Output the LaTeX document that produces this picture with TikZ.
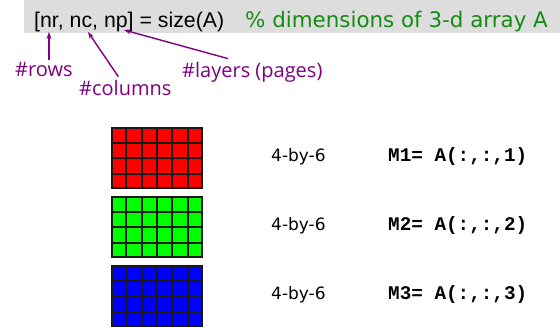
\documentclass[tikz,border=0pt]{standalone}
\usepackage{fontspec}
\setmainfont{DejaVu Sans}
\newfontfamily\callfont{Liberation Sans}
\newfontfamily\slicefont{Liberation Mono}
\newfontfamily\notefont{Open Sans}
\usetikzlibrary{positioning,calc,arrows.meta}

\definecolor{bandgray}{RGB}{221,221,221}
\definecolor{notepurple}{RGB}{128,0,128}
\definecolor{commentgreen}{RGB}{20,140,20}

\tikzset{
  note/.style={text=notepurple, inner sep=0pt, anchor=base west,
    font=\notefont\fontsize{20}{20}\selectfont},
  pointer/.style={draw=notepurple, line width=1.4pt,
    -{Stealth[length=7pt,width=5pt]}},
  layer/.style={draw=black!90, line width=2pt, minimum width=90pt,
    minimum height=60pt, inner sep=0pt},
  cellline/.style={draw=black!90, line width=2pt},
  dims/.style={inner sep=0pt, anchor=base west, font=\fontsize{17}{17}\selectfont},
  slice/.style={inner sep=0pt, anchor=base west,
    font=\slicefont\bfseries\fontsize{19.3}{19.3}\selectfont},
}

\begin{document}
\begin{tikzpicture}[x=1pt,y=-1pt]
\useasboundingbox (0,0) rectangle (560,327);

% command line
\fill[bandgray] (24,0) rectangle (560,33);
\node[inner sep=0pt, anchor=base west, font=\callfont\fontsize{21.3}{21.3}\selectfont]
  (call) at (34,27) {[nr, nc, np] = size(A)};
\node[inner sep=0pt, anchor=base west, text=commentgreen,
  font=\fontsize{21.4}{21.4}\selectfont]
  (comment) at (245,27) {\% dimensions of 3-d array A};

% notes
\node[note] (rows) at (15,76) {\#rows};
\node[note] (columns) at (79,95) {\#columns};
\node[note] (layers) at (182,77) {\#layers (pages)};
\coordinate (nr) at (49,32);
\coordinate (nc) at (88,32);
\coordinate (np) at (124,30);
\draw[pointer] ([yshift=2pt]rows.north -| nr) -- (nr);
\draw[pointer] ([xshift=-7pt,yshift=3pt]columns.north) -- (nc);
\draw[pointer] ([xshift=46pt,yshift=3pt]layers.north west) -- (np);

% pages of A
\foreach \col/\top [count=\k] in {red/127,green/196,blue/265} {
  \node[layer, fill=\col] (m\k) at (157,\top+31) {};
  \foreach \i in {1,...,5}
    \draw[cellline] ($(m\k.north west)!\i/6!(m\k.north east)$)
      -- ($(m\k.south west)!\i/6!(m\k.south east)$);
  \foreach \j in {1,2,3}
    \draw[cellline] ($(m\k.north west)!\j/4!(m\k.south west)$)
      -- ($(m\k.north east)!\j/4!(m\k.south east)$);
  \node[dims] (d\k) at (271,\top+34) {4-by-6};
  \node[slice] (s\k) at (388,\top+34) {M\k= A(:,:,\k)};
}
\end{tikzpicture}
\end{document}
